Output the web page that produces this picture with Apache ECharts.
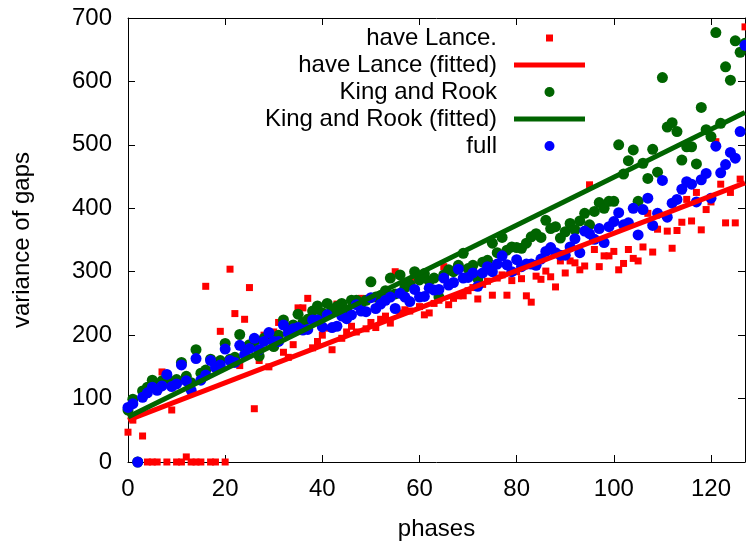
<!DOCTYPE html>
<html><head><meta charset="utf-8">
<script src="https://cdn.jsdelivr.net/npm/echarts@6/dist/echarts.min.js"></script>
<style>html,body{margin:0;padding:0;background:#fff}#c{width:746px;height:542px}</style>
</head><body><div id="c"></div>
<script>
// phases 0..127
const phases = Array.from({length: 128}, (_, i) => i);

const haveLance = [47,66,0,41,0,0,0,142,0,82,0,0,8,0,0,0,277,0,0,206,
0,304,234,152,225,275,84,160,200,150,205,220,173,165,185,243,243,258,180,190,
200,211,177,249,195,205,214,205,258,210,220,212,225,230,219,300,235,240,238,287,
245,232,235,250,255,308,248,258,262,262,270,275,257,280,285,263,290,295,263,286,
300,289,262,252,293,288,301,292,276,317,298,317,314,303,309,437,335,308,325,325,
332,303,313,335,321,317,339,392,331,367,445,364,337,365,378,414,380,425,366,398,
410,505,438,377,425,377,446,686];

const kingRook = [82,99,0,112,118,129,120,128,134,126,130,157,135,125,177,140,145,162,155,160,
187,162,165,201,180,185,190,167,195,200,182,200,224,210,216,233,220,225,238,246,
235,250,240,245,250,240,255,255,250,255,284,260,262,270,290,265,295,275,280,300,
287,297,285,290,260,295,303,300,310,329,305,310,289,315,318,345,330,354,334,339,
338,337,345,355,360,354,381,368,371,353,363,376,366,380,392,374,395,409,400,411,
411,500,454,475,492,411,471,447,493,457,606,528,535,521,476,497,497,470,559,524,
513,677,534,623,602,664,646,660];

const full = [86,92,0,102,109,118,113,120,138,119,123,153,128,113,163,129,137,160,149,153,
178,160,157,184,169,179,195,177,190,204,190,190,216,203,210,212,208,209,224,224,
213,232,212,214,230,226,232,248,238,237,259,242,249,255,260,242,266,260,253,272,
260,261,274,271,272,290,279,283,304,290,291,298,277,298,308,300,312,325,311,300,
319,308,312,312,310,320,332,338,330,326,326,339,352,330,364,360,351,368,346,371,
379,393,374,377,400,358,398,416,373,392,444,386,408,414,430,442,438,410,445,455,
416,498,456,469,488,479,521,657];

// fitted line endpoints [phase, value]
const lanceFit = [[0, 66], [127, 440]];
const rookFit = [[0, 71], [127, 551]];

const xTicks = [0, 20, 40, 60, 80, 100, 120];
const yTicks = [0, 100, 200, 300, 400, 500, 600, 700];

const FONT = 'Liberation Sans';
const pair = arr => phases.map((x, i) => [x, arr[i]]);

const tickStyle = {inside: true, length: 7, lineStyle: {color: '#000', width: 1}};
const lineStyle = {lineStyle: {color: '#000', width: 1}, onZero: false};
const lbl = {color: '#000', fontSize: 24, fontFamily: FONT};
// legend sample for fitted lines: a 5px bar across the whole sample box
const barIcon = 'path://M0 0M71 10M0 2.5L71 2.5L71 7.5L0 7.5Z';

const chart = echarts.init(document.getElementById('c'), null, {renderer: 'canvas'});
chart.setOption({
  animation: false,
  backgroundColor: '#fff',
  textStyle: {fontFamily: FONT},
  grid: {left: 128, right: 1, top: 18, bottom: 80, containLabel: false, outerBoundsMode: 'none'},
  xAxis: [{
    type: 'value', position: 'bottom', min: 0, max: 127, interval: 20,
    axisLine: lineStyle, axisTick: tickStyle, splitLine: {show: false},
    axisLabel: Object.assign({margin: 15, formatter: v => xTicks.includes(v) ? String(v) : ''}, lbl),
    name: 'phases', nameLocation: 'middle', nameGap: 55,
    nameTextStyle: {color: '#000', fontSize: 24, fontFamily: FONT}
  }, {
    type: 'value', position: 'top', min: 0, max: 127, interval: 20,
    axisLine: lineStyle, axisTick: tickStyle, splitLine: {show: false},
    axisLabel: {show: false}
  }],
  yAxis: [{
    type: 'value', position: 'left', min: 0, max: 700, interval: 100,
    axisLine: lineStyle, axisTick: tickStyle, splitLine: {show: false},
    axisLabel: Object.assign({margin: 16, formatter: v => yTicks.includes(v) ? String(v) : ''}, lbl),
    name: 'variance of gaps', nameLocation: 'middle', nameGap: 94, nameRotate: 90,
    nameTextStyle: {color: '#000', fontSize: 24, fontFamily: FONT}
  }, {
    type: 'value', position: 'right', min: 0, max: 700, interval: 100,
    axisLine: lineStyle, axisTick: tickStyle, splitLine: {show: false},
    axisLabel: {show: false}
  }],
  legend: {
    orient: 'vertical', align: 'right', right: 161, top: 26, padding: 0,
    itemWidth: 71, itemHeight: 10, itemGap: 3, symbolKeepAspect: true,
    textStyle: {color: '#000', fontSize: 24, fontFamily: FONT, lineHeight: 24, padding: [0, 12, 0, 0]},
    data: [
      {name: 'have Lance.'},
      {name: 'have Lance (fitted)', icon: barIcon},
      {name: 'King and Rook'},
      {name: 'King and Rook (fitted)', icon: barIcon},
      {name: 'full'}
    ]
  },
  series: [{
    name: 'have Lance.', type: 'scatter', data: pair(haveLance),
    symbol: 'path://M0 0M10 10M1.5 1.5L8.5 1.5L8.5 8.5L1.5 8.5Z', symbolSize: 10,
    itemStyle: {color: '#ff0000', opacity: 1}
  }, {
    name: 'have Lance (fitted)', type: 'line', data: lanceFit, symbol: 'none',
    lineStyle: {color: '#ff0000', width: 5}, itemStyle: {color: '#ff0000'}
  }, {
    name: 'King and Rook', type: 'scatter', data: pair(kingRook),
    symbol: 'circle', symbolSize: 11, itemStyle: {color: '#006400', opacity: 1}
  }, {
    name: 'King and Rook (fitted)', type: 'line', data: rookFit, symbol: 'none',
    lineStyle: {color: '#006400', width: 5}, itemStyle: {color: '#006400'}
  }, {
    name: 'full', type: 'scatter', data: pair(full),
    symbol: 'circle', symbolSize: 11, itemStyle: {color: '#0000ff', opacity: 1}
  }]
});
</script>
</body></html>
